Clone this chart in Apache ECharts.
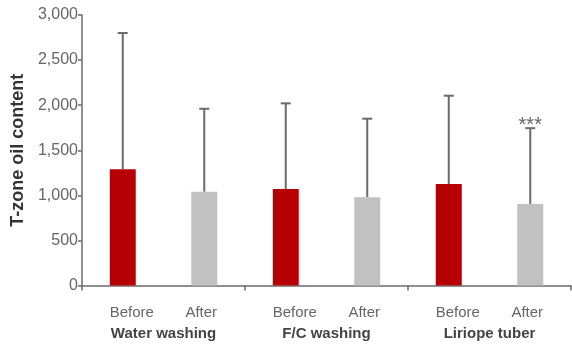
<!DOCTYPE html>
<html>
<head>
<meta charset="utf-8">
<script src="https://cdn.jsdelivr.net/npm/echarts@6/dist/echarts.min.js"></script>
<style>
  html, body { margin: 0; padding: 0; background: #fff; }
  #chart { width: 572px; height: 344px; }
</style>
</head>
<body>
<div id="chart"></div>
<script>
// Groups and timepoints
const groups = ['Water washing', 'F/C washing', 'Liriope tuber'];
const phases = ['Before', 'After', 'Before', 'After', 'Before', 'After'];
// Mean T-zone oil content and upper error bar end for each bar
const means = [1290, 1040, 1070, 980, 1125, 905];
const upper = [2800, 1960, 2020, 1850, 2105, 1745];
// Significance marks above bars
const marks = ['', '', '', '', '', '***'];
const yTicks = [0, 500, 1000, 1500, 2000, 2500, 3000];

const RED = '#b50006';
const GREY = '#c0c1c0';
const AXIS = '#6b6b6b';
const FONT = '"Liberation Sans Narrow", "Liberation Sans", Arial, sans-serif';

const chart = echarts.init(document.getElementById('chart'));

const barData = means.map((v, i) => ({
  value: v,
  itemStyle: { color: phases[i] === 'Before' ? RED : GREY }
}));

chart.setOption({
  animation: false,
  grid: { left: 82, right: 1, top: 15, bottom: 58.5, containLabel: false },
  xAxis: [
    {
      type: 'category',
      data: phases,
      axisLine: { show: true, lineStyle: { color: AXIS, width: 1.5 } },
      axisTick: { show: false },
      axisLabel: {
        interval: 0,
        hideOverlap: false,
        color: '#666', fontSize: 15, fontFamily: FONT, margin: 20,
        formatter: v => v === 'Before' ? '{b|' + v + '}' : '{a|' + v + '}',
        rich: {
          b: { color: '#666', fontSize: 15, fontFamily: FONT, padding: [0, 0, 0, 18] },
          a: { color: '#666', fontSize: 15, fontFamily: FONT, padding: [0, 6, 0, 0] }
        }
      }
    },
    {
      type: 'category',
      data: groups,
      position: 'bottom',
      axisLine: { show: false },
      axisTick: { show: true, length: 5, lineStyle: { color: AXIS, width: 1.5 } },
      axisLabel: { interval: 0, color: '#444', fontSize: 15, fontWeight: 'bold', fontFamily: FONT, margin: 41 }
    }
  ],
  yAxis: {
    type: 'value',
    min: 0,
    max: 3000,
    interval: 500,
    name: 'T-zone oil content',
    nameLocation: 'middle',
    nameGap: 48,
    nameTextStyle: { color: '#333', fontSize: 18, fontWeight: 'bold', fontFamily: FONT },
    axisLine: { show: true, lineStyle: { color: AXIS, width: 1.5 } },
    axisTick: { show: true, length: 4, lineStyle: { color: AXIS, width: 1.5 } },
    splitLine: { show: false },
    axisLabel: {
      color: '#666', fontSize: 16, fontFamily: FONT, margin: 4,
      formatter: v => yTicks.includes(v) ? v.toLocaleString('en-US') : ''
    }
  },
  series: [
    {
      type: 'bar',
      xAxisIndex: 0,
      data: barData,
      barWidth: 26,
      z: 2
    },
    {
      type: 'custom',
      xAxisIndex: 0,
      z: 1,
      data: means.map((m, i) => [i, m, upper[i]]),
      renderItem: (params, api) => {
        const base = api.coord([api.value(0), api.value(1)]);
        const top = api.coord([api.value(0), api.value(2)]);
        const x = base[0];
        const half = 5;
        const children = [
          { type: 'line', shape: { x1: x, y1: base[1], x2: x, y2: top[1] },
            style: { stroke: AXIS, lineWidth: 2 } },
          { type: 'line', shape: { x1: x - half, y1: top[1], x2: x + half, y2: top[1] },
            style: { stroke: AXIS, lineWidth: 2 } }
        ];
        const mark = marks[params.dataIndex];
        if (mark) {
          children.push({
            type: 'text',
            style: {
              text: mark, x: x, y: top[1] - 3,
              textAlign: 'center', textVerticalAlign: 'middle',
              fill: '#666', font: '20px ' + FONT
            }
          });
        }
        return { type: 'group', children };
      }
    }
  ]
});
</script>
</body>
</html>
